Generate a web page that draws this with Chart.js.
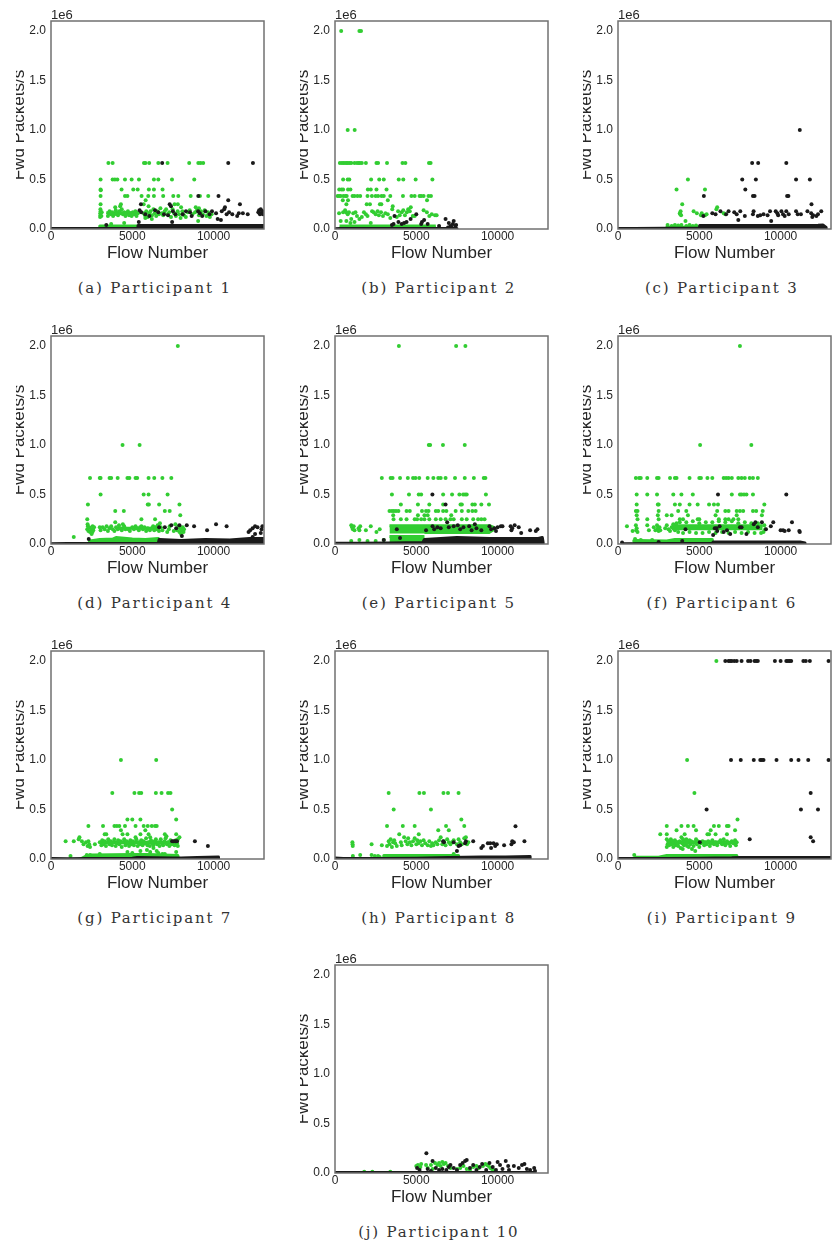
<!DOCTYPE html>
<html>
<head>
<meta charset="utf-8">
<title>Fwd Packets/s per participant</title>
<script src="https://cdn.jsdelivr.net/npm/chart.js@4"></script>
<style>
  html, body { margin: 0; padding: 0; background: #fff; }
  #page { position: relative; width: 838px; height: 1247px; overflow: hidden; }
  canvas { position: absolute; display: block; }
  .caption {
    position: absolute; width: 280px; text-align: center; white-space: nowrap;
    font-family: "DejaVu Serif", serif; font-size: 15px; letter-spacing: 1.8px; color: #333;
  }
</style>
</head>
<body>
<div id="page"></div>
<script>
// y values are in units of 1e6, same as the axis of the original figure
const xTicks = [0, 5000, 10000];
const yTicks = [0, 0.5, 1, 1.5, 2];
const xLabel = 'Flow Number';
const yLabel = 'Fwd Packets/s';
const yOffsetText = '1e6';
const captions = ['(a) Participant 1', '(b) Participant 2', '(c) Participant 3', '(d) Participant 4', '(e) Participant 5',
  '(f) Participant 6', '(g) Participant 7', '(h) Participant 8', '(i) Participant 9', '(j) Participant 10'];

// points are [flow, rate]; bands are the solid strips as [flow, top, bottom]
const p1Green = [[3530,.667],[3790,.667],[5720,.667],[5810,.667],[6040,.667],[6600,.667],[7170,.667],[8500,.667],[9060,.667],[9200,.667],[9360,.667],
  [3050,.5],[3790,.5],[3930,.5],[4080,.5],[4550,.5],[4960,.5],[5410,.5],[6330,.5],[6600,.5],[7440,.5],[8810,.5],
  [3050,.4],[3060,.39],[4340,.4],[5060,.4],[5330,.4],[6020,.4],[6330,.4],[6860,.4],
  [3050,.333],[4550,.333],[4700,.333],[5570,.333],[5980,.333],[6330,.333],[6900,.333],[7520,.333],[7830,.333],[8590,.333],[9160,.333],[9670,.333],
  [5820,.29],[3050,.25],[4300,.25],[4250,.23],[3950,.22],[5700,.25],[6000,.23],[7600,.25],[7800,.25],[8000,.22],[8900,.22],[9100,.21],
  [3020,.12],[3040,.14],[3030,.16],[3050,.18],[3040,.2],[3100,.13],[3120,.17],[3500,.13],[3550,.16],[3600,.18],[3680,.15],[3750,.17],[3820,.13],[3900,.15],
  [3980,.19],[4050,.16],[4120,.14],[4200,.18],[4280,.16],[4350,.2],[4420,.15],[4500,.17],[4580,.13],[4650,.16],[4730,.18],[4800,.14],[4880,.16],[4960,.13],
  [5030,.17],[5110,.15],[5190,.18],[5260,.13],[5340,.16],[5700,.16],[5780,.14],[5860,.18],[5950,.12],[6030,.16],[6120,.18],[6210,.14],[6300,.2],[6380,.16],
  [6470,.13],[6550,.18],[6640,.15],[6730,.21],[6820,.16],[6900,.14],[6990,.18],[7080,.2],[7170,.15],[7270,.17],[7380,.12],[7480,.2],[7570,.16],[7680,.13],
  [7790,.18],[7880,.15],[7970,.11],[8080,.18],[8180,.14],[8290,.12],[8410,.17],[8530,.19],[8700,.15],[8860,.17],[8980,.19],[9100,.14],[9220,.18],[9340,.15],
  [9450,.19],[9560,.13],[9660,.17],[9770,.12],[9880,.15],[3700,.05],[4500,.06],[5800,.11],[6200,.1],[9050,.08]];
const p1Black = [[6840,.667],[10900,.667],[12420,.667],[9060,.333],[10300,.333],[10900,.29],[5530,.25],[7300,.25],[7380,.23],[11620,.25],[10700,.22],
  [5450,.19],[5550,.17],[5800,.15],[6050,.13],[6400,.19],[6600,.17],[6950,.15],[7200,.14],[7500,.18],[7650,.15],[8100,.15],[8300,.18],[8550,.17],[8650,.13],
  [9050,.18],[9150,.16],[9300,.13],[9500,.18],[9750,.15],[9900,.18],[10150,.16],[10250,.1],[10450,.09],[10500,.18],[10650,.2],[10800,.15],[10950,.17],[11150,.15],
  [11450,.13],[11550,.16],[11800,.16],[12100,.15],[12750,.17],[12800,.19],[12850,.15],[12900,.2],[12950,.16],[13000,.18],[13040,.15],[5400,.07],[7450,.07],[3400,.04]];
const p1GreenBand = [[3000,0],[3000,.03],[5500,.03],[5500,0]];
const p1BlackBand = [[0,.006],[2900,.004],[3000,.006],[5300,.008],[5350,.035],[8000,.035],[13100,.035]];
const p1GreenCore = [[3400,.165,.15],[5400,.165,.15]];

const p2Green = [[380,2],[1500,2],[1600,2],[780,1],[1210,1],
  [300,.667],[420,.667],[520,.667],[620,.667],[720,.667],[800,.667],[900,.667],[1000,.667],[1200,.667],[1350,.667],[1450,.667],[1530,.667],[1650,.667],[1900,.667],[2550,.667],[2650,.667],[3200,.667],[4150,.667],[4330,.667],[5780,.667],[5880,.667],
  [500,.5],[780,.5],[880,.5],[2220,.5],[2720,.5],[3000,.5],[3920,.5],[4200,.5],[4960,.5],[5990,.5],
  [260,.4],[400,.4],[500,.4],[800,.4],[950,.4],[2020,.4],[2200,.4],[2550,.4],[3170,.4],
  [160,.333],[250,.333],[350,.333],[520,.333],[650,.333],[720,.333],[1080,.333],[1200,.333],[1380,.333],[1550,.333],[2000,.333],[2270,.333],[2500,.333],[2650,.333],[2860,.333],[3000,.333],[3400,.333],[4180,.333],[4700,.333],[4900,.333],[5200,.333],[5300,.333],[5450,.333],[5750,.333],[5900,.333],
  [480,.29],[800,.29],[3250,.29],[5660,.29],[700,.25],[1950,.25],[2150,.25],[2760,.25],[2850,.25],[3550,.23],
  [250,.16],[350,.08],[500,.17],[620,.19],[680,.17],[780,.15],[860,.17],[1000,.1],[1120,.16],[1260,.17],[1350,.13],[1500,.1],[1650,.12],[1780,.17],[1900,.15],[2000,.13],[2280,.18],[2380,.17],[2500,.15],[2620,.18],[2700,.14],[2830,.17],[2950,.13],
  [3100,.16],[3250,.15],[3400,.11],[3520,.2],[3800,.12],[3880,.18],[3980,.14],[4100,.17],[4200,.19],[4300,.14],[4420,.17],[4500,.2],[4600,.18],[4660,.22],[4780,.13],[4900,.13],[5450,.19],[5650,.17],[5800,.13],[5950,.15],[6150,.14],[6250,.14],
  [700,.08],[950,.06],[1200,.07],[2200,.06]];
const p2Black = [[3660,.13],[3900,.07],[4100,.05],[4250,.06],[4400,.07],[4650,.1],[5000,.15],[5300,.05],[5350,.07],[5480,.09],[5700,.05],[6400,.03],[6800,.1],[7000,.06],[7100,.03],[7250,.05],[7300,.08],[7450,.04],[7150,.02],[6950,.015],[3500,.04],[3600,.05],[7400,.03]];
const p2GreenBand = [[280,.03,.014],[6200,.03,.014]];
const p2BlackBand = [[0,.003],[300,.006],[6200,.006],[7500,.006],[7500,0]];

const p3Green = [[4300,.5],[3600,.4],[5350,.4],[3950,.25],[3850,.18],[3800,.16],[3830,.15],[3880,.14],[4650,.18],[4850,.16],[5100,.14],[5150,.16],[5450,.15],[5350,.14],[6050,.2],[6100,.22],[6500,.16],[6600,.15],[4150,.08],[3050,.04],[3300,.03],[3500,.04],[3700,.035],[3900,.04],[4200,.03],[4400,.04],[4600,.03],[4800,.035]];
const p3Black = [[8250,.667],[8620,.667],[10350,.667],[11180,1],[7640,.5],[8480,.5],[10950,.5],[11800,.5],[7830,.4],[5280,.333],[8300,.333],[8400,.333],[10400,.333],[10480,.333],[11900,.25],
  [5250,.13],[5800,.16],[6000,.15],[6300,.18],[6650,.15],[6800,.18],[7150,.17],[7300,.15],[7400,.09],[7520,.18],[7800,.13],[8300,.15],[8340,.18],[8600,.13],[8750,.14],[8950,.15],[9200,.14],[9350,.18],[9420,.08],[9700,.18],[9800,.16],[9850,.14],[10050,.18],[10150,.15],[10350,.18],[10250,.13],[10500,.15],[10950,.18],[11050,.15],[11250,.15],[11650,.18],[11880,.16],[11950,.12],[12000,.14],[12200,.13],[12300,.15],[12500,.18]];
const p3GreenBand = [[3000,0],[3000,.018],[5000,.018],[5000,0]];
const p3BlackBand = [[0,.006],[1000,.006],[3000,.008],[5000,.01],[5020,.035],[9000,.035],[12300,.038],[12600,.04],[12800,.015],[12800,0]];

const p4Green = [[7800,2],[4400,1],[5450,1],[2400,.667],[3000,.667],[3050,.667],[3600,.667],[3700,.667],[4100,.667],[4700,.667],[4820,.667],[5200,.667],[5300,.667],[6000,.667],[6350,.667],[6850,.667],[7400,.667],
  [3050,.5],[5700,.5],[6000,.5],[7170,.5],[2270,.4],[5950,.4],[6020,.4],[6650,.4],[7900,.4],[3950,.333],[4480,.333],[7000,.333],[7300,.333],[7950,.29],[2230,.25],[5560,.25],[6400,.25],[1400,.07],
  [2250,.2],[2270,.18],[2230,.15],[2300,.13],[2350,.17],[2400,.12],[2480,.15],[2500,.1],[2560,.18],[2600,.14],[2550,.12],[2650,.17],[3000,.17],[3050,.14],[3180,.17],[3300,.15],[3420,.18],[3500,.13],[3600,.16],[3700,.18],[3800,.15],[3900,.13],[3950,.22],[4000,.17],[4100,.15],[4180,.19],[4260,.16],[4350,.14],[4420,.2],[4500,.18],[4580,.15],[4750,.15],[4850,.13],[5000,.17],[5100,.15],[5200,.18],[5300,.16],[5400,.14],[5480,.17],[5560,.18],[5650,.15],[5750,.17],[5850,.13],[5950,.16],[6080,.14],[6200,.16],[6280,.18],[6350,.14],[6420,.17],[6500,.15],[6560,.19],[6640,.13],[6700,.21],[6750,.17],[6850,.14],[7150,.12],[7250,.15],[7300,.18],[7550,.13],[7650,.2],[7750,.14],[7850,.18],[7900,.12],[7950,.16],[8000,.1],[8050,.14],[8100,.17],[8150,.12],[8180,.15]];
const p4Black = [[2320,.05],[6650,.17],[7000,.17],[7400,.19],[7700,.16],[7900,.19],[8350,.19],[8800,.18],[9600,.14],[10150,.2],[10800,.18],[12150,.12],[12250,.14],[12400,.16],[12550,.18],[12700,.17],[12550,.1],[12400,.07],[12900,.11],[12950,.15],[13000,.18],[8050,.08]];
const p4GreenBand = [[2300,0],[2400,.03],[3000,.045],[3800,.05],[4000,.065],[5000,.05],[5800,.045],[6600,.055],[6650,0]];
const p4BlackBand = [[0,.003],[1000,.006],[2300,.006],[4000,.006],[6600,.007],[6650,.045],[8000,.035],[9500,.045],[11000,.04],[12200,.055],[13100,.055]];
const p4GreenCore = [[4000,.16,.15],[6700,.16,.15]];

const p5Green = [[3930,2],[7450,2],[8020,2],[5770,1],[5850,1],[6640,1],[7980,1],
  [2880,.667],[3420,.667],[3540,.667],[4000,.667],[4480,.667],[4800,.667],[4950,.667],[5180,.667],[5700,.667],[6050,.667],[6350,.667],[6500,.667],[6800,.667],[7380,.667],[7980,.667],[8540,.667],[9150,.667],[9250,.667],
  [3500,.5],[4550,.5],[5150,.5],[5300,.5],[6650,.5],[7200,.5],[7650,.5],[7880,.5],[8000,.5],[8100,.5],[9280,.5],
  [4050,.4],[5100,.4],[5800,.4],[6650,.4],[7720,.4],[7800,.4],[8450,.4],[8600,.4],[9000,.4],[9470,.4],
  [3350,.333],[3500,.333],[3620,.333],[3750,.333],[3900,.333],[4400,.333],[4600,.333],[5350,.333],[5600,.333],[5750,.333],[6200,.333],[6350,.333],[6650,.333],[6850,.333],[7420,.333],[7800,.333],[8200,.333],[8450,.333],[8650,.333],
  [3580,.29],[5100,.29],[5500,.29],[5700,.29],[7150,.29],[3600,.25],[4050,.25],[4400,.25],[4900,.25],[5050,.25],[5300,.25],[5500,.25],[5800,.25],[6200,.25],[6500,.25],[6800,.25],[7100,.25],[7300,.25],[7800,.25],[8100,.25],[8500,.25],[8800,.25],[9000,.25],[9200,.25],
  [1000,.19],[1050,.17],[1100,.15],[1150,.18],[1200,.14],[1450,.16],[1500,.14],[1550,.18],[1900,.14],[2200,.18],[2550,.12],[2750,.15],[1000,.03],[1500,.04],[2000,.03],[2500,.03],[3000,.04]];
const p5Black = [[5990,.5],[6800,.4],[3800,.15],[5600,.14],[6000,.18],[6100,.15],[6300,.17],[6500,.16],[6900,.22],[7000,.17],[7300,.18],[7550,.19],[7700,.15],[7900,.17],[8250,.18],[8400,.14],[8600,.2],[8700,.16],[9000,.14],[9500,.18],[9600,.15],[9800,.16],[9900,.13],[10000,.17],[10200,.18],[10300,.18],[10800,.18],[10850,.14],[10900,.16],[11050,.19],[11300,.17],[11450,.11],[12000,.14],[12350,.13],[12450,.15],[3000,.04],[4000,.06]];
const p5GreenBand = [[3350,.075,.02],[5500,.075,.02]];
const p5BlackBand = [[0,.008],[1500,.008],[3300,.01],[5400,.015],[5500,.045],[7500,.065],[9500,.055],[11000,.055],[12500,.055],[12750,.065],[12800,.015],[12800,0]];
const p5GreenCore = [[3350,.185,.105],[5500,.185,.105],[5500,.185,.1],[9500,.185,.1],[9800,.165,.13]];

const p6Green = [[7500,2],[5050,1],[8200,1],[1100,.667],[1300,.667],[1400,.667],[1800,.667],[2400,.667],[2500,.667],[3200,.667],[3500,.667],[3600,.667],[4400,.667],[5000,.667],[5100,.667],[5500,.667],[5800,.667],[6500,.667],[6650,.667],[6800,.667],[7000,.667],[7400,.667],[7600,.667],[7800,.667],[8100,.667],[8300,.667],[8600,.667],
  [1150,.5],[1800,.5],[2400,.5],[3400,.5],[3900,.5],[4600,.5],[7000,.5],[7500,.5],[7600,.5],[7750,.5],[7900,.5],[8300,.5],
  [1150,.4],[2450,.4],[2500,.4],[3500,.4],[3800,.4],[4400,.4],[4900,.4],[5600,.4],[5900,.4],[6150,.4],[9000,.4],[8850,.29],
  [1100,.333],[1200,.333],[2500,.333],[3700,.333],[4200,.333],[6100,.333],[6600,.333],[6800,.333],[7300,.333],[7500,.333],[7700,.333],[8300,.333],[8500,.333],[8900,.333],
  [1150,.29],[1200,.25],[2450,.29],[3000,.29],[3300,.29],[4300,.29],[6000,.29],[7300,.29],[7400,.25],[1800,.25],[2500,.25],[3800,.25],[4000,.25],[4900,.25],[5000,.25],[6200,.25],[6600,.25],[6800,.25],[7100,.25],
  [550,.18],[900,.13],[1100,.19],[1150,.16],[1200,.12],[1120,.14],[1800,.19],[1900,.14],[2200,.17],[2300,.14],[2400,.19],[2450,.16],[2500,.13],[2550,.17],[2600,.14],[2900,.16],[3000,.19],[3100,.15],[1000,.03],[1050,.05],[1400,.04],[2100,.04],[9050,.15],[9000,.19],[8950,.12],
  [3200,.13],[3300,.17],[3400,.2],[3500,.14],[3600,.21],[3700,.12],[3800,.22],[4000,.11],[4200,.22],[4400,.12],[4600,.23],[4800,.11],[5000,.21],[5200,.11],[5400,.22],[5600,.12],[5800,.22],[6000,.11],[6200,.23],[6400,.12],[6600,.22],[6800,.11],[7000,.23],[7200,.12],[7400,.21],[7600,.11],[7800,.22],[8000,.12],[8200,.21],[8400,.11],[8600,.21],[8800,.11]];
const p6Black = [[6150,.5],[10350,.5],[4150,.15],[5850,.09],[5950,.16],[6050,.16],[6100,.13],[6250,.18],[6500,.12],[6700,.14],[6900,.1],[7500,.17],[7600,.17],[7900,.1],[8350,.2],[8450,.22],[8600,.17],[8850,.22],[9100,.15],[9400,.18],[9550,.22],[10000,.14],[10150,.14],[10250,.13],[10500,.14],[10700,.22],[11150,.13],[11180,.12],[3950,.03],[2500,.02],[250,.015]];
const p6GreenBand = [[1000,0],[1100,.035],[3000,.03],[3500,.045],[5000,.045],[5800,.045],[5800,0]];
const p6BlackBand = [[250,.002],[3500,.004],[5000,.006],[5800,.006],[5850,.02],[8000,.02],[10000,.02],[11200,.02],[11500,.01],[11500,0]];
const p6GreenCore = [[3300,.185,.14],[8900,.185,.14]];

const p7Green = [[4300,1],[6470,1],[3770,.667],[5130,.667],[5420,.667],[5550,.667],[6450,.667],[6800,.667],[7200,.667],[7350,.667],[7450,.5],[7700,.4],
  [5000,.4],[4700,.4],[5500,.4],[2300,.333],[3200,.333],[3900,.333],[4050,.333],[4200,.333],[4550,.333],[5200,.333],[5700,.333],[5950,.333],[6200,.333],[6400,.333],[6500,.333],[4300,.29],[4700,.25],[5800,.29],[6000,.25],
  [900,.18],[1400,.18],[1700,.2],[1750,.22],[1900,.18],[2000,.15],[2150,.17],[2250,.13],[2300,.18],[2350,.15],[2400,.12],[2700,.15],[1200,.03],[2200,.04],[2400,.04],[3300,.25],[3400,.25],[4400,.25],[5200,.22],[5500,.25],[6100,.22],[7000,.25],[7100,.23],[7900,.22],[7800,.2],[7700,.25],
  [3000,.17],[3100,.14],[3150,.19],[3220,.15],[3300,.18],[3380,.13],[3450,.17],[3520,.2],[3600,.15],[3680,.18],[3750,.14],[3830,.17],[3900,.2],[3980,.13],[4050,.16],[4130,.19],[4200,.15],[4280,.18],[4350,.12],[4420,.17],[4500,.2],[4580,.14],[4650,.18],[4730,.16],[4800,.13],[4880,.19],[4950,.15],[5030,.18],[5100,.14],[5180,.17],[5250,.2],[5330,.13],[5400,.17],[5480,.15],[5550,.19],[5630,.14],[5700,.18],[5780,.16],[5850,.21],[5930,.14],[6000,.17],[6080,.13],[6150,.19],[6230,.16],[6300,.14],[6380,.18],[6450,.2],[6530,.15],[6600,.17],[6680,.13],[6750,.2],[6830,.16],[6900,.14],[6980,.18],[7050,.21],[7130,.15],[7200,.17],[7280,.13],[7350,.19],[7430,.15],[7500,.17],[7600,.14],[7680,.19],[7750,.16],[7800,.13],
  [3000,.05],[4700,.07],[5000,.06],[5500,.08],[5900,.09],[6100,.07],[6300,.11],[6500,.08],[6600,.06],[6850,.05],[7000,.05],[7700,.07]];
const p7Black = [[7450,.18],[7550,.18],[7650,.18],[7750,.18],[8850,.18],[9650,.13]];
const p7GreenBand = [[1800,0],[2100,.025],[2500,.04],[5000,.045],[6000,.045],[7800,.035],[7850,0]];
const p7BlackBand = [[0,.006],[1000,.002],[2200,.006],[3000,.006],[5000,.007],[5300,.015],[7500,.01],[8000,.01],[9000,.015],[10300,.02],[10300,0]];
const p7GreenCore = [[3000,.17,.15],[7700,.17,.15]];

const p8Green = [[3300,.667],[5190,.667],[5470,.667],[6670,.667],[6950,.667],[7600,.667],[3610,.5],[5900,.5],[7770,.4],[3200,.333],[4170,.333],[4900,.333],[6830,.333],[7950,.333],[6350,.29],[7000,.29],[3950,.25],[5150,.25],
  [1070,.17],[1080,.15],[1090,.13],[2250,.15],[2880,.14],[3200,.13],[3300,.18],[3350,.15],[3420,.2],[3500,.12],[3570,.17],[3640,.19],[3700,.16],[3800,.13],[4050,.17],[4100,.14],[4250,.22],[4350,.18],[4450,.15],[4500,.21],[4600,.17],[4700,.14],[4800,.18],[4900,.21],[5000,.15],[5060,.19],[5130,.16],[5250,.18],[5350,.14],[5450,.19],[5550,.16],[5700,.14],[5800,.18],[5900,.13],[5980,.16],[6050,.14],[6200,.17],[6300,.15],[6400,.19],[6500,.22],[6600,.15],[6700,.18],[6800,.14],[6900,.2],[7000,.17],[7100,.15],[7200,.17],[7300,.19],[7500,.15],[7600,.2],[7700,.17],[7800,.15],[7950,.21],[8050,.22],[8120,.15],[8200,.17],
  [1100,.03],[1550,.04],[2250,.04],[2450,.03],[2650,.03],[2750,.02],[7300,.05]];
const p8Black = [[6650,.18],[6700,.17],[7300,.17],[7500,.08],[7600,.13],[7700,.14],[8000,.16],[8050,.18],[8500,.18],[9000,.11],[9100,.13],[9400,.16],[9550,.16],[9600,.11],[9750,.16],[9850,.13],[9950,.15],[10400,.14],[10850,.15],[10900,.18],[11000,.17],[11100,.33],[11650,.18]];
const p8GreenBand = [[3000,0],[3000,.035],[7600,.035],[7600,0]];
const p8BlackBand = [[0,.01],[500,.005],[1000,.005],[3000,.006],[5000,.008],[6300,.012],[7000,.015],[9000,.02],[10500,.02],[12000,.025],[12000,0]];

const p9Green = [[6050,2],[4250,1],[4700,.667],[7350,.4],[3000,.333],[3900,.333],[4300,.333],[4650,.333],[5900,.333],[6200,.333],[6700,.333],[6800,.333],[2600,.25],[3000,.25],[3600,.29],[4100,.25],[4800,.29],[5700,.29],[5500,.25],[5600,.25],[6000,.25],[6700,.25],[7200,.29],[1000,.04],
  [3000,.2],[3050,.15],[3000,.12],[3100,.18],[3150,.14],[3200,.17],[3250,.2],[3300,.15],[3350,.18],[3400,.12],[3450,.16],[3500,.19],[3550,.14],[3600,.17],[3650,.15],[3700,.13],[3800,.18],[3850,.11],[3900,.22],[3950,.16],[3980,.1],[4000,.2],[4050,.14],[4100,.18],[4150,.15],[4200,.2],[4250,.13],[4300,.17],[4350,.12],[4400,.19],[4450,.15],[4500,.18],[4550,.1],[4650,.13],[4700,.17],[4750,.08],[4800,.2],[4850,.15],[4900,.18],[5000,.12],[5100,.16],[5200,.18],[5300,.14],[5350,.17],[5450,.15],[5550,.18],[5650,.13],[5700,.16],[5800,.19],[5900,.15],[6000,.17],[6100,.14],[6200,.17],[6300,.19],[6400,.15],[6500,.2],[6600,.14],[6700,.18],[6800,.16],[6900,.13],[7000,.18],[7100,.16],[7200,.19],[7250,.14],[7300,.17]];
const p9Black = [[6600,2],[6800,2],[6900,2],[7000,2],[7150,2],[7300,2],[7600,2],[8000,2],[8150,2],[8400,2],[8500,2],[8600,2],[9650,2],[10000,2],[10350,2],[10450,2],[10550,2],[10650,2],[11400,2],[11550,2],[11800,2],[12950,2],
  [6950,1],[7550,1],[8350,1],[8750,1],[8850,1],[8950,1],[9750,1],[10650,1],[11100,1],[11700,1],[12950,1],[11850,.667],[5450,.5],[11250,.5],[12300,.5],[8100,.2],[11850,.22],[12000,.18],[5030,.17]];
const p9GreenBand = [[1000,0],[1100,.018],[2500,.018],[3000,.036],[5000,.036],[7300,.036],[7350,0]];
const p9BlackBand = [[0,.004],[500,.004],[1000,.006],[3000,.006],[5000,.008],[7000,.012],[7500,.016],[9500,.016],[11000,.016],[13100,.016]];
const p9GreenCore = [[3000,.175,.15],[7300,.17,.15]];

const p10Green = [[5000,.07],[5100,.08],[5250,.06],[5300,.09],[5600,.08],[5700,.05],[5900,.08],[6000,.04],[6150,.1],[6300,.08],[6400,.1],[6500,.07],[6600,.11],[6700,.09],[6800,.1],[6950,.07],[7100,.05],[7500,.04],[7700,.05],[7900,.07],[8100,.04],[8300,.03],[8500,.06],[8700,.07],[8850,.05],[9100,.07],[9250,.09],[9350,.08],[9450,.07],[9550,.05],[9650,.04],[9750,.03],[1800,.012],[2300,.012],[3400,.012]];
const p10Black = [[5620,.2],[6000,.12],[5050,.05],[5200,.03],[5700,.04],[5900,.02],[6200,.05],[6400,.03],[6600,.04],[6850,.03],[7000,.06],[7100,.08],[7300,.05],[7500,.03],[7700,.08],[7850,.1],[8000,.12],[8100,.13],[8300,.05],[8500,.08],[8700,.03],[8900,.06],[9050,.09],[9300,.03],[9500,.1],[9700,.06],[9900,.03],[10000,.11],[10150,.08],[10300,.04],[10500,.12],[10650,.07],[10700,.03],[11000,.07],[11300,.05],[11500,.08],[11650,.09],[11800,.04],[12000,.03],[12250,.05],[12300,.02]];
const p10BlackBand = [[0,.005],[3000,.004],[5000,.005],[9000,.005],[12300,.005],[12300,0]];

const greens = [p1Green, p2Green, p3Green, p4Green, p5Green, p6Green, p7Green, p8Green, p9Green, p10Green];
const blacks = [p1Black, p2Black, p3Black, p4Black, p5Black, p6Black, p7Black, p8Black, p9Black, p10Black];
const greenBands = [p1GreenBand, p2GreenBand, p3GreenBand, p4GreenBand, p5GreenBand, p6GreenBand, p7GreenBand, p8GreenBand, p9GreenBand, []];
const greenCores = [p1GreenCore, [], [], p4GreenCore, p5GreenCore, p6GreenCore, p7GreenCore, [], p9GreenCore, []];
const blackBands = [p1BlackBand, p2BlackBand, p3BlackBand, p4BlackBand, p5BlackBand, p6BlackBand, p7BlackBand, p8BlackBand, p9BlackBand, p10BlackBand];

// plot-area corners on the page, one per panel
const PLOT_LEFT = [51, 335, 618, 51, 335, 618, 51, 335, 618, 335];
const PLOT_TOP = [21, 21, 21, 335.5, 335.5, 335.5, 650.5, 650.5, 650.5, 965];
const PLOT_W = 213.5, PLOT_H = 208;
const PAD_LEFT = 35, PAD_TOP = 18, PAD_RIGHT = 6, PAD_BOTTOM = 33;
const GREEN = '#32cd32', BLACK = '#1a1a1a', TEXT = '#262626';

// frame and the "1e6" offset text
const framePlugin = {
  id: 'frame',
  afterDraw(chart) {
    const { ctx, chartArea: a } = chart;
    ctx.save();
    ctx.strokeStyle = '#707070';
    ctx.lineWidth = 1.5;
    ctx.strokeRect(a.left, a.top, a.right - a.left, a.bottom - a.top);
    ctx.fillStyle = TEXT;
    ctx.font = '13px "Liberation Sans"';
    ctx.textAlign = 'left';
    ctx.textBaseline = 'bottom';
    ctx.fillText(yOffsetText, a.left, a.top + 0.5);
    ctx.restore();
  }
};

function pointSet(list, color) {
  return { data: list.map(p => ({ x: p[0], y: p[1] })), backgroundColor: color, borderWidth: 0, pointRadius: 2, showLine: false };
}

// two line datasets, the upper one filled down to the lower one.
// the upper stroke gives the strip the same soft thickness as the overlapping dots
function bandSets(list, color) {
  const base = { pointRadius: 0, borderColor: color, showLine: true, tension: 0 };
  return [
    { ...base, borderWidth: 0, data: list.map(b => ({ x: b[0], y: b[2] || 0 })), fill: false },
    { ...base, borderWidth: 3, borderJoinStyle: 'round', data: list.map(b => ({ x: b[0], y: b[1] })), fill: '-1', backgroundColor: color }
  ];
}

function drawPanel(i) {
  const page = document.getElementById('page');
  const canvas = document.createElement('canvas');
  canvas.width = PAD_LEFT + PLOT_W + PAD_RIGHT;
  canvas.height = PAD_TOP + PLOT_H + PAD_BOTTOM;
  canvas.style.left = (PLOT_LEFT[i] - PAD_LEFT) + 'px';
  canvas.style.top = (PLOT_TOP[i] - PAD_TOP) + 'px';
  page.appendChild(canvas);

  // first dataset ends on top in Chart.js
  const datasets = [
    pointSet(blacks[i], BLACK), ...bandSets(blackBands[i], BLACK),
    pointSet(greens[i], GREEN), ...bandSets(greenCores[i], GREEN), ...bandSets(greenBands[i], GREEN)
  ];

  new Chart(canvas.getContext('2d'), {
    type: 'scatter',
    data: { datasets },
    options: {
      responsive: false,
      animation: false,
      layout: { padding: { top: PAD_TOP, right: PAD_RIGHT, left: 0, bottom: 0 } },
      plugins: { legend: { display: false }, tooltip: { enabled: false } },
      scales: {
        x: {
          type: 'linear', min: 0, max: 13100,
          grid: { display: false, drawTicks: false }, border: { display: false },
          afterBuildTicks: s => { s.ticks = xTicks.map(v => ({ value: v })); },
          afterFit: s => { s.height = PAD_BOTTOM; },
          ticks: { color: TEXT, padding: 0, maxRotation: 0, callback: v => String(v), font: { family: 'Liberation Sans', size: 12 } },
          title: { display: true, text: xLabel, color: TEXT, padding: 0, font: { family: 'Liberation Sans', size: 17, lineHeight: 1 } }
        },
        y: {
          min: 0, max: 2.1,
          grid: { display: false, drawTicks: false }, border: { display: false },
          afterBuildTicks: s => { s.ticks = yTicks.map(v => ({ value: v })); },
          afterFit: s => { s.width = PAD_LEFT; },
          ticks: { color: TEXT, padding: 5, callback: v => v.toFixed(1), font: { family: 'Liberation Sans', size: 12 } },
          // small line height pushes the label against the canvas edge, which cuts its top off like the original
          title: { display: true, text: yLabel, color: TEXT, padding: 0, font: { family: 'Liberation Sans', size: 17, lineHeight: 0.4 } }
        }
      }
    },
    plugins: [framePlugin]
  });

  const cap = document.createElement('div');
  cap.className = 'caption';
  cap.textContent = captions[i];
  cap.style.left = (PLOT_LEFT[i] + PLOT_W / 2 - 3 - 140) + 'px';
  cap.style.top = (PLOT_TOP[i] + PLOT_H + 50) + 'px';
  page.appendChild(cap);
}

captions.forEach((c, i) => drawPanel(i));
</script>
</body>
</html>
